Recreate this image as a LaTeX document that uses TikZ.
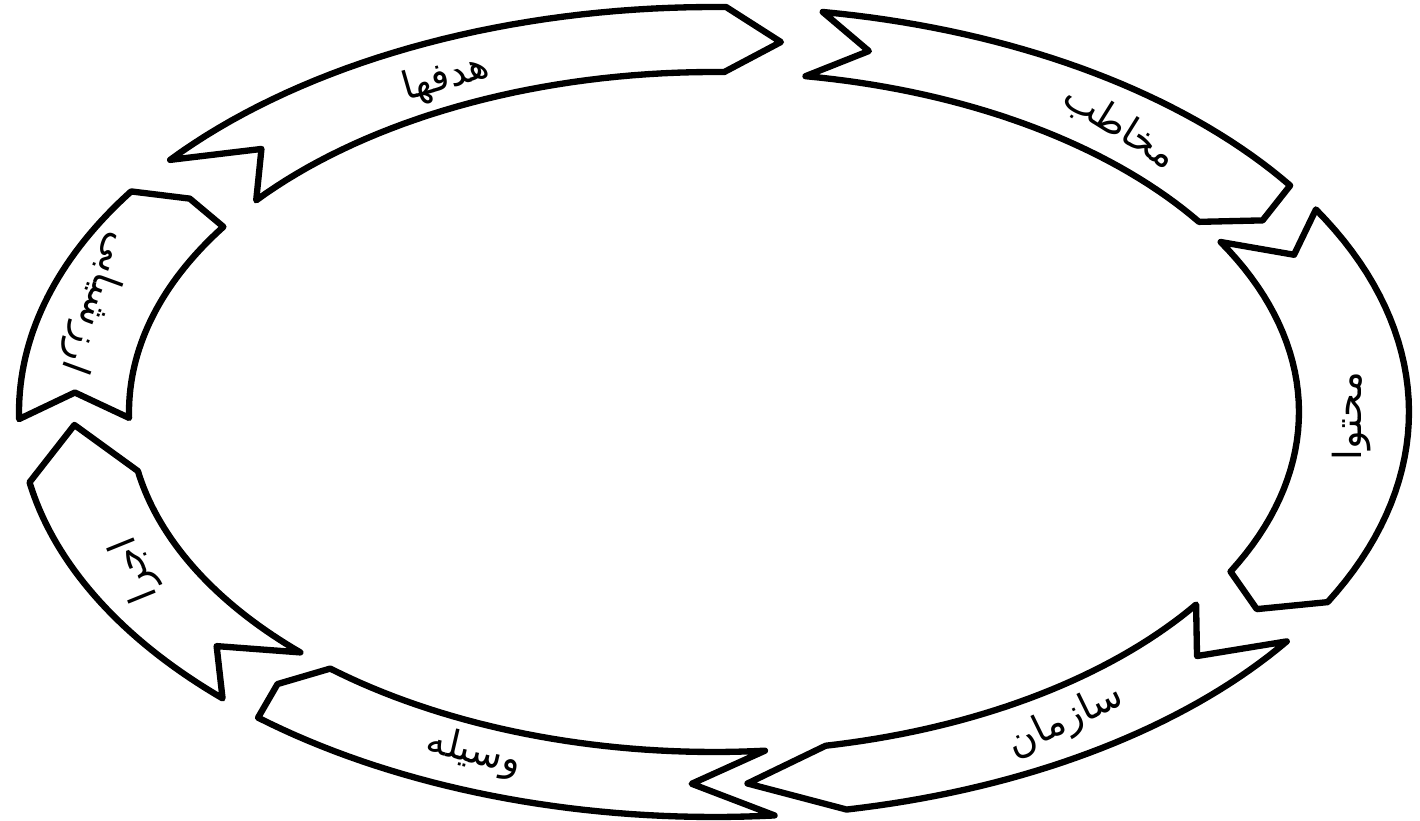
\documentclass[tikz,border=0pt]{standalone}
\usepackage{fontspec}
\usetikzlibrary{positioning}
\TeXXeTstate=1
\newfontfamily\arabicfont[Script=Arabic]{DejaVu Sans}
\definecolor{inkline}{HTML}{000000}
\definecolor{paper}{HTML}{FFFFFF}
\tikzset{
  band/.style={draw=inkline, fill=paper, line width=3.6pt, line join=round},
  bandlabel/.style={text=inkline, inner sep=1pt, font={\arabicfont\fontsize{22}{26}\selectfont}}
}
% tail angle, notch angle, head angle, tip angle (clockwise round the ring)
\newcommand{\ringband}[4]{%
  \draw[band]
    plot[domain=#1:#3, samples=36] ({714+695*cos(\x)}, {409+405*sin(\x)})
    -- ({714+640*cos(#4)}, {409+372*sin(#4)})
    -- plot[domain=#3:#1, samples=36] ({714+585*cos(\x)}, {409+340*sin(\x)})
    -- ({714+640*cos(#2)}, {409+372*sin(#2)})
    -- cycle;}

\begin{document}
\begin{tikzpicture}[x=0.02cm, y=0.02cm]
    \useasboundingbox[fill=paper] (0,0) rectangle (1420,821);

    \ringband{141.5}{135}{89}{84}
    \ringband{81}{76}{34}{31}
    \ringband{30}{25}{-28}{-32}
    \ringband{-34.5}{-41}{-79}{-87}
    \ringband{-85}{-92}{-131}{-133}
    \ringband{225}{219}{190}{182}
    \ringband{181}{177}{147}{145}

    \node[bandlabel, rotate=16]   (goals)        at (446,742)  {\beginR هدفها\endR};
    \node[bandlabel, rotate=-32]  (audience)     at (1120,694) {\beginR مخاطب\endR};
    \node[bandlabel, rotate=90]   (content)      at (1352,405) {\beginR محتوا\endR};
    \node[bandlabel, rotate=26]   (organization) at (1066,100) {\beginR سازمان\endR};
    \node[bandlabel, rotate=-13]  (medium)       at (474,68)   {\beginR وسیله\endR};
    \node[bandlabel, rotate=112]  (execution)    at (136,252)  {\beginR اجرا\endR};
    \node[bandlabel, rotate=-110] (evaluation)   at (96,518)   {\beginR ارزشیابی\endR};
  \end{tikzpicture}
\end{document}
